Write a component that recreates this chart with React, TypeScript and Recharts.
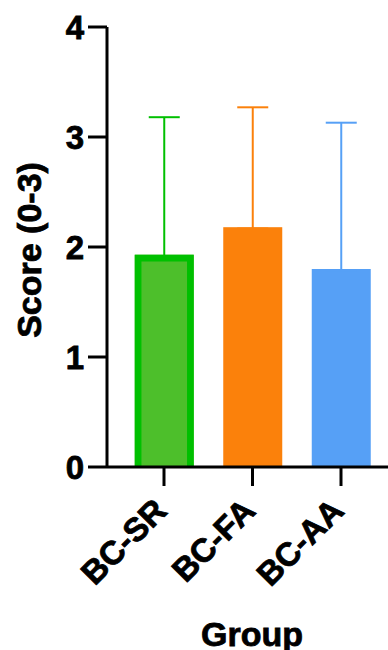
import React from 'react';
import { BarChart, Bar, XAxis, YAxis, ErrorBar, Cell, Label } from 'recharts';

const groups = ['BC-SR', 'BC-FA', 'BC-AA'];
const means = [1.93, 2.18, 1.8];
const errUpper = [1.25, 1.09, 1.33];
const fills = ['#4DBF2B', '#FB810B', '#56A0F6'];
const borders = ['#00C000', null, null];
const errColors = ['#00C000', '#FB810B', '#56A0F6'];
const yTicks = [0, 1, 2, 3, 4];

const errKeys = ['errSR', 'errFA', 'errAA'];
// lower cap tucked just inside the bar top so only the upper whisker shows
const LOW_CAP = 0.012;

const data = groups.map((g, i) => {
  const row: any = { group: g, mean: means[i] };
  row[errKeys[i]] = [LOW_CAP, errUpper[i]];
  return row;
});

const FONT = '"Liberation Sans", Arial, sans-serif';
const HEAVY = { stroke: '#000', strokeWidth: 0.8, paintOrder: 'stroke' } as any;

const BarShape = (props: any) => {
  const { x, y, width, height, index } = props;
  const fill = fills[index];
  const border = borders[index];
  if (border) {
    const sw = 6.7;
    const h = sw / 2;
    return (
      <g>
        <rect x={x} y={y} width={width} height={height} fill={fill} />
        <path
          d={`M${x + h},${y + height} L${x + h},${y + h} L${x + width - h},${y + h} L${x + width - h},${y + height}`}
          fill="none"
          stroke={border}
          strokeWidth={sw}
        />
      </g>
    );
  }
  return <rect x={x} y={y} width={width} height={height} fill={fill} />;
};

const XTick = (props: any) => {
  const { x, y, payload } = props;
  const ax = x - 12;
  return (
    <text
      x={ax}
      y={y}
      transform={`rotate(-45 ${ax} ${y})`}
      textAnchor="end"
      dy="0.71em"
      fontSize={33}
      fontWeight="bold"
      fontFamily={FONT}
      fill="#000"
      {...HEAVY}
    >
      {payload.value}
    </text>
  );
};

const YLabel = (props: any) => {
  const { viewBox } = props;
  const cx = 29;
  const cy = viewBox.y + viewBox.height / 2 + 3;
  return (
    <text
      x={cx}
      y={cy}
      transform={`rotate(-90 ${cx} ${cy})`}
      textAnchor="middle"
      dominantBaseline="central"
      fontSize={34}
      fontWeight="bold"
      fontFamily={FONT}
      fill="#000"
      {...HEAVY}
    >
      Score (0-3)
    </text>
  );
};

export default function App() {
  return (
    <div style={{ position: 'absolute', left: 0, top: 0, width: 388, height: 650, background: '#fff' }}>
      <BarChart
        width={388}
        height={650}
        data={data}
        margin={{ top: 27, right: 0, bottom: 0, left: 0 }}
        barSize={59}
      >
        <YAxis
          type="number"
          domain={[0, 4]}
          ticks={yTicks}
          interval={0}
          width={107}
          tickSize={19}
          tickMargin={4}
          axisLine={{ stroke: '#000', strokeWidth: 3 }}
          tickLine={{ stroke: '#000', strokeWidth: 3 }}
          tick={{ fontSize: 33, fontWeight: 'bold', fill: '#000', fontFamily: FONT, ...HEAVY }}
        >
          <Label content={<YLabel />} />
        </YAxis>
        <Bar dataKey="mean" isAnimationActive={false} shape={BarShape}>
          {data.map((d, i) => (
            <Cell key={d.group} fill={fills[i]} />
          ))}
          {errKeys.map((k, i) => (
            <ErrorBar
              key={k}
              dataKey={k}
              direction="y"
              width={15.5}
              strokeWidth={2}
              stroke={errColors[i]}
              isAnimationActive={false}
            />
          ))}
        </Bar>
        <XAxis
          dataKey="group"
          type="category"
          height={183}
          padding={{ left: 12.75, right: 2.75 }}
          tickSize={19}
          tickMargin={10}
          interval={0}
          axisLine={{ stroke: '#000', strokeWidth: 3 }}
          tickLine={{ stroke: '#000', strokeWidth: 3 }}
          tick={<XTick />}
        >
          <Label
            value="Group"
            position="insideBottom"
            offset={4}
            dx={4.5}
            style={{ fontSize: 34, fontWeight: 'bold', fill: '#000', fontFamily: FONT, ...HEAVY }}
          />
        </XAxis>
      </BarChart>
    </div>
  );
}
